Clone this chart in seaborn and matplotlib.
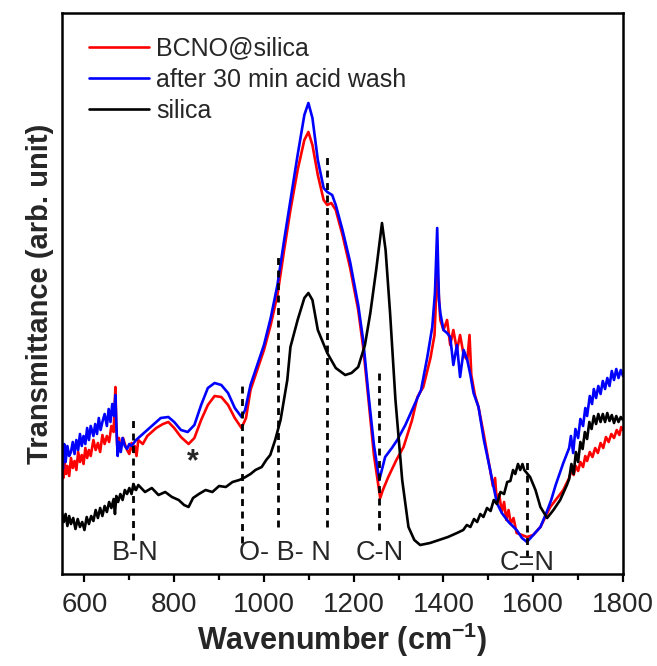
import pandas as pd
import numpy as np
import matplotlib
matplotlib.use("Agg")
import matplotlib.pyplot as plt
import seaborn as sns
from matplotlib.ticker import MultipleLocator

# FTIR spectra (arbitrary transmittance units)
red_wn = [550, 553, 556, 559, 562, 566, 570, 574, 578, 582, 586, 590, 594, 598, 602, 606, 610, 614, 620,
          625, 630, 635, 640, 645, 650, 655, 660, 665, 669, 671, 673, 677, 681, 686, 690, 695, 700, 705,
          709, 712, 716, 720, 730, 740, 750, 760, 775, 787, 800, 815, 832, 845, 860, 875, 890, 905, 920,
          935, 950, 960, 970, 985, 1000, 1015, 1030, 1045, 1059, 1075, 1090, 1099, 1108, 1120, 1133, 1141,
          1150, 1160, 1175, 1192, 1210, 1221, 1233, 1245, 1259, 1265, 1277, 1295, 1311, 1330, 1342, 1355,
          1371, 1380, 1386, 1393, 1400, 1408, 1415, 1422, 1430, 1437, 1445, 1453, 1458, 1462, 1470, 1478,
          1490, 1504, 1510, 1515, 1519, 1524, 1530, 1535, 1540, 1545, 1550, 1556, 1563, 1575, 1586, 1600,
          1616, 1638, 1650, 1667, 1680, 1685, 1690, 1695, 1700, 1705, 1711, 1716, 1720, 1726, 1732, 1738,
          1744, 1750, 1756, 1762, 1768, 1774, 1780, 1786, 1792, 1796, 1800]
red_t = [104, 96, 112, 100, 108, 98, 116, 106, 113, 104, 122, 112, 119, 110, 126, 116, 124, 118, 134,
         124, 131, 122, 139, 130, 138, 132, 148, 142, 187, 150, 128, 136, 125, 136, 130, 124, 120, 131,
         122, 128, 118, 134, 130, 138, 142, 146, 150, 152, 146, 137, 130, 136, 154, 169, 178, 177, 169,
         156, 146, 156, 184, 204, 224, 249, 279, 324, 364, 404, 434, 442, 429, 399, 374, 369,
         371, 364, 339, 306, 264, 227, 174, 119, 76, 84, 97, 114, 127, 154, 177, 187,
         216, 239, 304, 254, 244, 254, 229, 244, 224, 239, 219, 214, 239, 199, 179, 167,
         139, 104, 88, 96, 71, 80, 62, 72, 54, 64, 50, 56, 41, 39, 37, 39,
         47, 67, 74, 84, 96, 104, 99, 108, 103, 112, 107, 118, 113, 122, 117, 126,
         121, 131, 126, 137, 132, 140, 136, 144, 139, 147, 144]

blue_wn = [550, 552, 555, 558, 562, 566, 570, 574, 578, 582, 586, 590, 594, 598, 602, 606, 610, 614, 620,
           624, 628, 632, 636, 640, 645, 650, 654, 658, 662, 666, 669, 671, 674, 677, 681, 685, 690, 695,
           700, 705, 715, 725, 740, 755, 770, 787, 800, 815, 830, 845, 860, 875, 890, 905, 920, 935, 950,
           958, 970, 985, 1000, 1015, 1030, 1045, 1059, 1075, 1090, 1099, 1108, 1120, 1133, 1141, 1152,
           1160, 1175, 1192, 1210, 1221, 1233, 1245, 1257, 1270, 1285, 1297, 1315, 1333, 1350, 1364, 1375,
           1381, 1386, 1390, 1393, 1400, 1408, 1415, 1422, 1430, 1437, 1445, 1453, 1460, 1467, 1478, 1490,
           1504, 1519, 1530, 1545, 1563, 1575, 1586, 1600, 1616, 1630, 1640, 1650, 1667, 1680, 1684, 1689,
           1694, 1700, 1705, 1711, 1716, 1720, 1726, 1731, 1735, 1740, 1745, 1750, 1755, 1760, 1765, 1770,
           1775, 1780, 1785, 1790, 1795, 1800]
blue_t = [119, 105, 130, 112, 128, 118, 122, 132, 120, 134, 124, 140, 128, 138, 130, 146, 134, 148, 138,
          150, 140, 156, 144, 152, 160, 148, 165, 152, 170, 158, 179, 150, 118, 132, 122, 136, 128, 125,
          130, 128, 134, 138, 144, 150, 156, 157, 152, 144, 142, 149, 169, 186, 191, 189, 181, 166, 157,
          164, 189, 209, 229, 256, 289, 334, 374, 419, 459, 471, 456, 414, 386, 382, 379,
          369, 344, 312, 269, 234, 179, 129, 94, 117, 126, 134, 149, 167, 184, 217, 247,
          281, 346, 274, 261, 244, 241, 237, 209, 229, 197, 224, 214, 199, 181, 167, 134,
          104, 71, 61, 52, 44, 36, 32, 39, 47, 62, 74, 89, 111, 126, 138, 121,
          145, 136, 155, 148, 166, 158, 178, 170, 185, 176, 188, 180, 193, 185, 196, 188,
          203, 194, 205, 196, 204, 198]

black_wn = [550, 554, 558, 562, 566, 570, 575, 580, 585, 590, 595, 600, 605, 610, 615, 620, 625, 630, 635,
            640, 645, 650, 655, 660, 665, 668, 671, 675, 680, 685, 690, 695, 700, 705, 709, 715, 720, 735,
            750, 765, 780, 795, 810, 822, 832, 842, 855, 870, 885, 900, 915, 930, 945, 955, 970, 981, 995,
            1005, 1014, 1025, 1037, 1052, 1059, 1075, 1090, 1099, 1108, 1120, 1141, 1160, 1181, 1195, 1210,
            1225, 1237, 1250, 1263, 1271, 1281, 1293, 1308, 1322, 1335, 1348, 1370, 1390, 1410, 1430, 1444,
            1452, 1460, 1468, 1475, 1482, 1489, 1497, 1505, 1512, 1519, 1527, 1535, 1542, 1549, 1555, 1560,
            1566, 1571, 1576, 1580, 1593, 1605, 1616, 1631, 1645, 1660, 1675, 1680, 1685, 1690, 1695, 1700,
            1705, 1710, 1715, 1720, 1725, 1730, 1735, 1740, 1745, 1750, 1755, 1760, 1765, 1770, 1775, 1780,
            1785, 1790, 1795, 1800]
black_t = [61, 52, 60, 48, 58, 50, 56, 45, 55, 47, 52, 44, 57, 50, 58, 53, 64, 56, 66,
           58, 68, 62, 72, 66, 75, 60, 78, 72, 80, 74, 84, 80, 86, 80, 90, 84, 89, 82,
           86, 79, 82, 77, 74, 69, 67, 76, 80, 84, 82, 88, 87, 92, 94, 96, 100, 104, 107,
           114, 119, 134, 154, 194, 227, 254, 276, 281, 274, 244, 221, 206, 199, 201, 207,
           229, 261, 304, 351, 324, 261, 174, 94, 47, 34, 29, 31, 34, 37, 41, 44,
           49, 47, 55, 52, 60, 57, 66, 63, 74, 70, 82, 80, 92, 93, 104, 100,
           110, 104, 110, 104, 97, 84, 67, 56, 64, 74, 89, 95, 110, 100, 122, 112,
           132, 125, 142, 135, 152, 145, 158, 150, 160, 152, 160, 152, 161, 153, 159, 151,
           158, 152, 157, 154]

series_names = ["BCNO@silica", "after 30 min acid wash", "silica"]
series_colors = ["#ff0000", "#0000ff", "#000000"]

# band assignments: dashed marker positions and their extent
band_wn = [709, 950, 1032, 1141, 1257, 1586]
band_lo = [34, 31, 47, 47, 44, 17]
band_hi = [154, 191, 321, 421, 201, 112]

frames = []
for name, wn, t in zip(series_names, [red_wn, blue_wn, black_wn], [red_t, blue_t, black_t]):
    frames.append(pd.DataFrame({"Wavenumber": wn, "Transmittance": t, "Sample": name}))
df = pd.concat(frames, ignore_index=True)

sns.set_style("white")
plt.rcParams["font.family"] = ["Liberation Sans", "DejaVu Sans"]
plt.rcParams["mathtext.fontset"] = "custom"
plt.rcParams["mathtext.rm"] = "Liberation Sans"
plt.rcParams["mathtext.bf"] = "Liberation Sans:bold"

fig = plt.figure(figsize=(6.57, 6.66), dpi=100)
ax = fig.add_axes([62 / 657, 1 - 574 / 666, 561 / 657, 561 / 666])

sns.lineplot(data=df, x="Wavenumber", y="Transmittance", hue="Sample",
             hue_order=series_names, palette=series_colors, sort=False,
             estimator=None, linewidth=1.9, ax=ax)

for w, lo, hi in zip(band_wn, band_lo, band_hi):
    ax.plot([w, w], [lo, hi], color="black", linestyle=(0, (2.5, 2)), linewidth=2.0)

ax.text(714, 21, "B-N", ha="center", va="center", fontsize=19.5)
ax.text(944, 21, "O- B- N", ha="left", va="center", fontsize=19.5)
ax.text(1257, 21, "C-N", ha="center", va="center", fontsize=19.5)
ax.text(1586, 11, "C=N", ha="center", va="center", fontsize=19.5)
ax.text(841, 112, "*", ha="center", va="center", fontsize=22, fontweight="bold")

ax.set_xlim(550, 1800)
ax.set_ylim(0, 561)
ax.set_yticks([])
ax.xaxis.set_major_locator(MultipleLocator(200))
ax.xaxis.set_minor_locator(MultipleLocator(100))
ax.tick_params(axis="x", which="major", direction="out", length=6, width=1.6,
               labelsize=20, pad=7, bottom=True, color="black")
ax.tick_params(axis="x", which="minor", direction="out", length=4, width=1.6, bottom=True,
               color="black")
for s in ax.spines.values():
    s.set_linewidth(1.8)
    s.set_color("black")

ax.set_xlabel("Wavenumber (cm$^{\\mathbf{-1}}$)", fontsize=22, fontweight="bold", labelpad=2)
ax.set_ylabel("Transmittance (arb. unit)", fontsize=21, fontweight="bold", labelpad=6)

ax.legend(title=None, loc="upper left", frameon=False, fontsize=18,
          handlelength=2.4, handletextpad=0.3, labelspacing=0.28,
          borderpad=0, borderaxespad=0, bbox_to_anchor=(0.048, 0.958))

fig.savefig("out.png", dpi=100)
